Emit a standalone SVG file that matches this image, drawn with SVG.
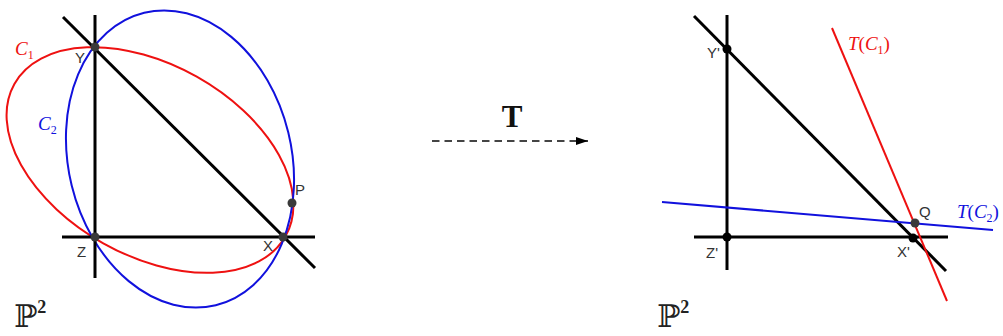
<svg xmlns="http://www.w3.org/2000/svg" width="1003" height="336" viewBox="0 0 1003 336">
<style>
.ln{stroke:#000;stroke-width:3;fill:none;stroke-linecap:butt}
.red{stroke:#ee1111;stroke-width:2;fill:none}
.blue{stroke:#1111dd;stroke-width:2;fill:none}
.pt{fill:#3a3a3a}
.ptb{fill:#000}
.lbl{font-family:"Liberation Sans",Arial,sans-serif;font-size:15px;fill:#333}
.math{font-family:"Liberation Serif","Times New Roman",serif;font-size:19px}
.it{font-style:italic}
.sub{font-size:12px}
.pp{font-family:"DejaVu Serif","DejaVu Sans",serif;font-size:31px;fill:#222}
</style>
<defs>
<marker id="ah" viewBox="0 0 10 10" refX="10" refY="5" markerWidth="12" markerHeight="8" markerUnits="userSpaceOnUse" orient="auto" preserveAspectRatio="none">
<path d="M0,0 L10,5 L0,10 z" fill="#000"/>
</marker>
</defs>
<rect width="1003" height="336" fill="#fff"/>
<g id="connectors">
<ellipse class="red" cx="150" cy="160" rx="155.5" ry="95.5" transform="rotate(29.3 150 160)"/>
<ellipse class="blue" cx="180" cy="159" rx="111.5" ry="150.5" transform="rotate(-13.75 180 159)"/>
<line class="ln" x1="95" y1="15" x2="95" y2="278"/>
<line class="ln" x1="62" y1="237" x2="315" y2="237"/>
<line class="ln" x1="63" y1="17" x2="315" y2="268"/>
<line class="ln" x1="727" y1="15" x2="727" y2="270"/>
<line class="ln" x1="694" y1="237" x2="948" y2="237"/>
<line class="ln" x1="694" y1="16" x2="946" y2="271"/>
<line class="red" x1="832" y1="28" x2="947" y2="301"/>
<line class="blue" x1="662" y1="202" x2="993" y2="230"/>
<line x1="432" y1="141" x2="588" y2="141" stroke="#444" stroke-width="2" stroke-dasharray="7.5,5" marker-end="url(#ah)"/>
</g>
<g id="node-Y"><circle class="pt" cx="95" cy="47" r="4.5"/><text class="lbl" x="75" y="63">Y</text></g>
<g id="node-Z"><circle class="pt" cx="95" cy="237" r="4.5"/><text class="lbl" x="77" y="257">Z</text></g>
<g id="node-X"><circle class="pt" cx="283" cy="237" r="4.5"/><text class="lbl" x="263" y="251">X</text></g>
<g id="node-P"><circle class="pt" cx="292" cy="203" r="4.5"/><text class="lbl" x="295" y="195">P</text></g>
<g id="label-C1"><text class="math" x="15" y="55" fill="#ee1111"><tspan class="it">C</tspan><tspan class="sub" dy="4">1</tspan></text></g>
<g id="label-C2"><text class="math" x="38" y="130" fill="#1111dd"><tspan class="it">C</tspan><tspan class="sub" dy="4">2</tspan></text></g>
<g id="label-P2-left"><text class="pp" x="14" y="327">ℙ<tspan font-family="Liberation Serif,serif" font-weight="bold" font-size="18" dy="-14">2</tspan></text></g>
<g id="node-T"><text x="512" y="127" text-anchor="middle" font-family="Liberation Serif,serif" font-weight="bold" font-size="31" fill="#111">T</text></g>
<g id="node-Y2"><circle class="ptb" cx="727" cy="49" r="4.5"/><text class="lbl" x="707" y="58">Y'</text></g>
<g id="node-Z2"><circle class="ptb" cx="727" cy="237" r="4.5"/><text class="lbl" x="706" y="258">Z'</text></g>
<g id="node-X2"><circle class="ptb" cx="913" cy="238" r="4.5"/><text class="lbl" x="897" y="257">X'</text></g>
<g id="node-Q"><circle class="pt" cx="915" cy="223" r="4.5"/><text class="lbl" x="919" y="217">Q</text></g>
<g id="label-TC1"><text class="math" x="848" y="50" fill="#ee1111"><tspan class="it">T</tspan>(<tspan class="it">C</tspan><tspan class="sub" dy="4">1</tspan><tspan dy="-4">)</tspan></text></g>
<g id="label-TC2"><text class="math" x="957" y="218" fill="#1111dd"><tspan class="it">T</tspan>(<tspan class="it">C</tspan><tspan class="sub" dy="4">2</tspan><tspan dy="-4">)</tspan></text></g>
<g id="label-P2-right"><text class="pp" x="657" y="327">ℙ<tspan font-family="Liberation Serif,serif" font-weight="bold" font-size="18" dy="-14">2</tspan></text></g>
</svg>
